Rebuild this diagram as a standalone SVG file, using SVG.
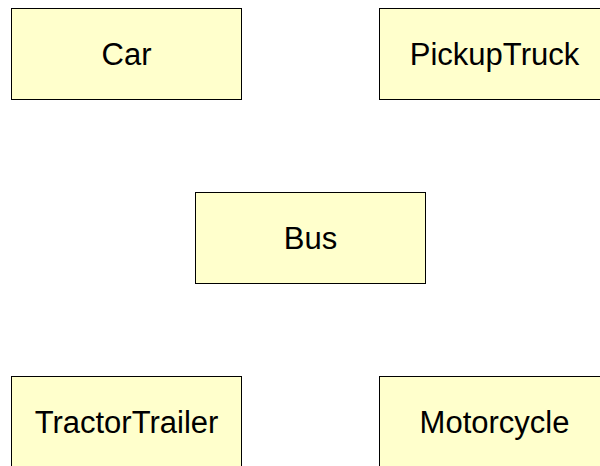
<svg xmlns="http://www.w3.org/2000/svg" width="600" height="466" viewBox="0 0 600 466">
<style>
.box{fill:#FFFFCC;stroke:#000;stroke-width:1}
.lbl{font-family:"Liberation Sans",Arial,sans-serif;font-size:31px;fill:#000;text-anchor:middle}
</style>
<rect width="600" height="466" fill="#fff"/>
<g id="connectors"></g>
<g id="Car"><rect class="box" x="11.5" y="8.5" width="230" height="91"/><text class="lbl" x="126.5" y="65">Car</text></g>
<g id="PickupTruck"><rect class="box" x="379.5" y="8.5" width="230" height="91"/><text class="lbl" x="494.5" y="65">PickupTruck</text></g>
<g id="Bus"><rect class="box" x="195.5" y="192.5" width="230" height="91"/><text class="lbl" x="310.5" y="249">Bus</text></g>
<g id="TractorTrailer"><rect class="box" x="11.5" y="376.5" width="230" height="91"/><text class="lbl" x="126.5" y="433">TractorTrailer</text></g>
<g id="Motorcycle"><rect class="box" x="379.5" y="376.5" width="230" height="91"/><text class="lbl" x="494.5" y="433">Motorcycle</text></g>
</svg>
